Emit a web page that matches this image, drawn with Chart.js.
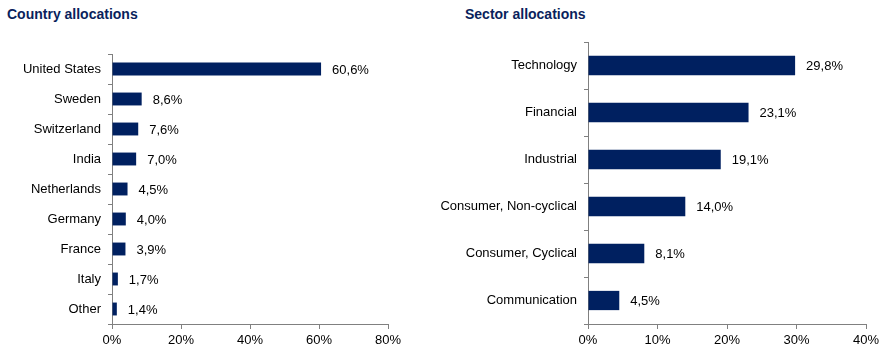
<!DOCTYPE html>
<html><head><meta charset="utf-8">
<script src="https://cdn.jsdelivr.net/npm/chart.js@4"></script>
<style>
html,body{margin:0;padding:0;background:#fff;width:891px;height:352px;overflow:hidden;font-family:"Liberation Sans",Arial,sans-serif;}
.t{position:absolute;font-weight:bold;font-size:14px;line-height:16px;color:#0a1f5c;top:6px;}
.w{position:absolute;top:0;height:352px;}
</style></head><body>
<div class="t" style="left:7px">Country allocations</div>
<div class="t" style="left:465px">Sector allocations</div>
<div class="w" style="left:0;width:440px"><canvas id="c1"></canvas></div>
<div class="w" style="left:440px;width:451px"><canvas id="c2"></canvas></div>
<script>
const countryLabels = ["United States","Sweden","Switzerland","India","Netherlands","Germany","France","Italy","Other"];
const countryValues = [60.6, 8.6, 7.6, 7.0, 4.5, 4.0, 3.9, 1.7, 1.4];
const countryTicks = [0, 20, 40, 60, 80];
const sectorLabels = ["Technology","Financial","Industrial","Consumer, Non-cyclical","Consumer, Cyclical","Communication"];
const sectorValues = [29.8, 23.1, 19.1, 14.0, 8.1, 4.5];
const sectorTicks = [0, 10, 20, 30, 40];

const fmt = v => v.toFixed(1).replace('.', ',') + '%';
const FONT = '"Liberation Sans", Arial, sans-serif';

const labelPlugin = {
  id: 'valLabels',
  afterDatasetsDraw(chart) {
    const ctx = chart.ctx;
    const meta = chart.getDatasetMeta(0);
    const data = chart.data.datasets[0].data;
    ctx.save();
    ctx.font = '13px ' + FONT;
    ctx.fillStyle = '#000';
    ctx.textAlign = 'left';
    ctx.textBaseline = 'middle';
    meta.data.forEach((bar, i) => {
      ctx.fillText(fmt(data[i]), bar.x + 11, bar.y + 1);
    });
    ctx.restore();
  }
};

function makeChart(id, labels, values, ticks, yWidth, padRight, padTop, barPct) {
  new Chart(document.getElementById(id), {
    type: 'bar',
    data: { labels: labels, datasets: [{ data: values, backgroundColor: '#002060', borderWidth: 0, barPercentage: barPct, categoryPercentage: 1 }] },
    options: {
      indexAxis: 'y',
      responsive: true,
      maintainAspectRatio: false,
      animation: false,
      events: [],
      layout: { padding: { top: padTop, right: padRight, left: 0, bottom: 0 } },
      plugins: { legend: { display: false }, tooltip: { enabled: false }, title: { display: false } },
      scales: {
        x: {
          min: ticks[0], max: ticks[ticks.length - 1],
          afterBuildTicks: s => { s.ticks = ticks.map(v => ({ value: v })); },
          afterFit: s => { s.height = 28; },
          border: { color: '#808080', width: 1 },
          grid: { drawOnChartArea: false, drawTicks: true, tickLength: 5, color: '#808080' },
          ticks: { color: '#000', font: { size: 13, family: FONT }, padding: 4, maxRotation: 0, callback: v => v + '%' }
        },
        y: {
          afterFit: s => { s.width = yWidth; },
          border: { color: '#808080', width: 1 },
          grid: { drawOnChartArea: false, drawTicks: true, tickLength: 4, color: '#808080', offset: true },
          ticks: { color: '#000', font: { size: 13, family: FONT }, padding: 7, autoSkip: false }
        }
      }
    },
    plugins: [labelPlugin]
  });
}

makeChart('c1', countryLabels, countryValues, countryTicks, 112, 52, 54, 0.43);
makeChart('c2', sectorLabels, sectorValues, sectorTicks, 148, 25, 42, 0.41);
</script>
</body></html>
